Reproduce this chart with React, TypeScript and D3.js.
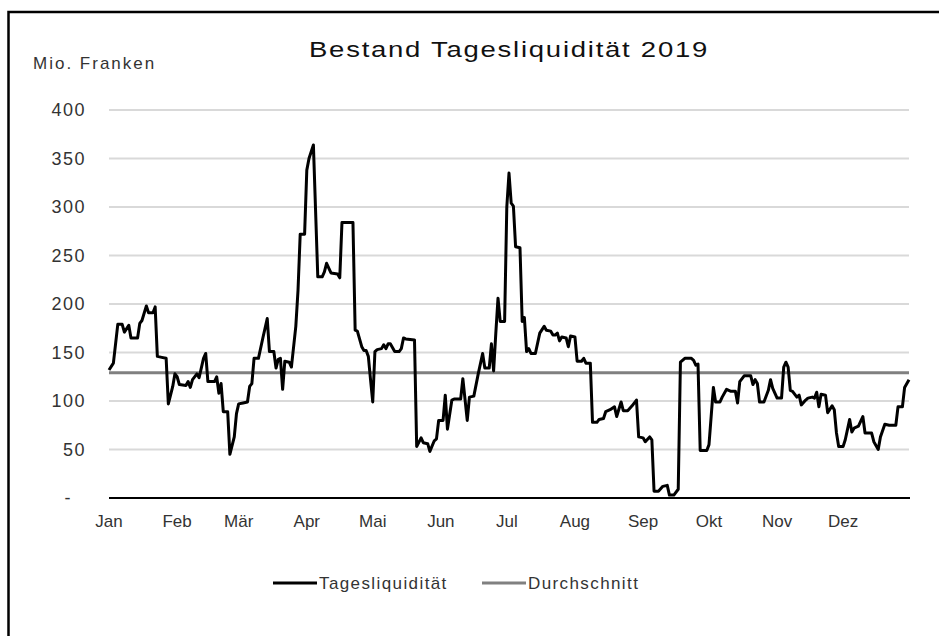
import { useEffect, useRef } from "react"
import * as d3 from "d3"

// day of year (0 = 1. Januar) and stock in Mio. Franken
const liquidity: [number, number][] = [
  [0, 132], [2, 139], [4, 179], [6, 179], [7, 171], [9, 178], [10, 165], [13, 165],
  [14, 180], [15, 183], [17, 198], [18, 191], [20, 191], [21, 197], [22, 146], [24, 145],
  [26, 144], [27, 97], [29, 115], [30, 128], [31, 125], [32, 117], [35, 116], [36, 120],
  [37, 114], [38, 122], [40, 128], [41, 124], [43, 144], [44, 149], [45, 120], [48, 120],
  [49, 125], [50, 108], [51, 118], [52, 89], [54, 89], [55, 45], [57, 63], [58, 87],
  [59, 97], [61, 98], [63, 99], [64, 115], [65, 118], [66, 144], [68, 144], [70, 165],
  [72, 185], [73, 151], [75, 151], [76, 134], [77, 143], [78, 144], [79, 112], [80, 141],
  [82, 140], [83, 135], [85, 177], [86, 214], [87, 272], [89, 272], [90, 338], [91, 350],
  [93, 364], [95, 228], [97, 228], [98, 233], [99, 242], [101, 232], [104, 231], [105, 227],
  [106, 284], [111, 284], [112, 173], [113, 172], [115, 156], [116, 152], [117, 152], [118, 146],
  [119, 122], [120, 99], [121, 151], [122, 153], [124, 154], [125, 158], [126, 154], [127, 159],
  [128, 159], [130, 151], [132, 151], [133, 154], [134, 165], [135, 164], [139, 163], [140, 53],
  [142, 62], [143, 57], [145, 56], [146, 48], [148, 59], [149, 61], [150, 80], [152, 80],
  [153, 106], [154, 71], [156, 101], [157, 102], [160, 102], [161, 123], [163, 80], [164, 104],
  [166, 105], [168, 128], [170, 149], [171, 134], [173, 134], [174, 159], [175, 131], [176, 170],
  [177, 206], [178, 182], [180, 182], [181, 300], [182, 335], [183, 304], [184, 301], [185, 259],
  [187, 258], [188, 182], [189, 186], [190, 151], [191, 154], [192, 149], [194, 149], [196, 170],
  [198, 177], [199, 173], [201, 172], [202, 168], [203, 168], [204, 170], [205, 162], [206, 166],
  [208, 165], [209, 156], [210, 167], [212, 166], [213, 141], [215, 141], [216, 144], [217, 139],
  [219, 139], [220, 78], [222, 78], [223, 81], [225, 82], [226, 89], [228, 91], [230, 94],
  [231, 84], [233, 99], [234, 90], [236, 90], [238, 95], [240, 101], [241, 63], [243, 62],
  [244, 58], [246, 63], [247, 60], [248, 7], [250, 7], [252, 12], [254, 13], [255, 3],
  [257, 3], [259, 9], [260, 140], [262, 144], [265, 144], [266, 142], [267, 137], [268, 138],
  [269, 49], [272, 49], [273, 55], [275, 114], [276, 99], [278, 99], [279, 104], [281, 112],
  [283, 110], [285, 110], [286, 98], [287, 120], [289, 126], [292, 126], [293, 117], [294, 122],
  [295, 118], [296, 99], [298, 99], [300, 111], [301, 122], [302, 113], [304, 103], [306, 103],
  [307, 135], [308, 140], [309, 135], [310, 111], [311, 110], [313, 104], [314, 106], [315, 96],
  [317, 101], [318, 103], [320, 104], [321, 103], [322, 109], [323, 94], [324, 107], [326, 106],
  [327, 88], [329, 95], [330, 91], [331, 67], [332, 53], [334, 53], [335, 60], [337, 81],
  [338, 68], [339, 72], [341, 74], [343, 84], [344, 67], [347, 67], [348, 58], [350, 50],
  [351, 63], [353, 76], [355, 75], [358, 75], [359, 94], [361, 94], [362, 114], [364, 122],
]

const average = 129
const months = ["Jan", "Feb", "Mär", "Apr", "Mai", "Jun", "Jul", "Aug", "Sep", "Okt", "Nov", "Dez"]
const yTicks = [0, 50, 100, 150, 200, 250, 300, 350, 400]
const legendItems = [
  { label: "Tagesliquidität", color: "#000000" },
  { label: "Durchschnitt", color: "#808080" },
]

const W = 939
const H = 636
const FONT = "'Liberation Sans', Arial, sans-serif"

export default function App() {
  const svgRef = useRef<SVGSVGElement>(null)

  useEffect(() => {
    if (!svgRef.current) return
    const svg = d3.select(svgRef.current)
    svg.selectAll("*").remove()

    const plot = { left: 109, right: 909, top: 110, bottom: 498 }

    const x = d3
      .scaleTime()
      .domain([new Date(2019, 0, 1), new Date(2019, 11, 31)])
      .range([plot.left, plot.right])
    const y = d3.scaleLinear().domain([0, 400]).range([plot.bottom, plot.top])

    // * Outer frame (cut off by the picture on the right and bottom)
    svg
      .append("rect")
      .attr("x", 8.5)
      .attr("y", 12)
      .attr("width", 2000)
      .attr("height", 2000)
      .attr("fill", "none")
      .attr("stroke", "#000")
      .attr("stroke-width", 2.5)

    // * Title (the original type is wide, so stretch it a bit)
    svg
      .append("text")
      .attr("transform", "translate(509,57) scale(1.25,1)")
      .attr("text-anchor", "middle")
      .attr("font-family", FONT)
      .attr("font-size", "22px")
      .attr("letter-spacing", "1.4px")
      .attr("fill", "#111")
      .text("Bestand Tagesliquidität 2019")

    // * Unit label
    svg
      .append("text")
      .attr("x", 33)
      .attr("y", 69)
      .attr("font-family", FONT)
      .attr("font-size", "17px")
      .attr("letter-spacing", "2px")
      .attr("fill", "#333")
      .text("Mio. Franken")

    // * Gridlines
    svg
      .append("g")
      .selectAll("line")
      .data(yTicks.filter((t) => t > 0))
      .join("line")
      .attr("x1", plot.left)
      .attr("x2", plot.right)
      .attr("y1", (d) => y(d))
      .attr("y2", (d) => y(d))
      .attr("stroke", "#d9d9d9")
      .attr("stroke-width", 2)

    // * Y labels ("-" for zero, accounting style)
    svg
      .append("g")
      .selectAll("text")
      .data(yTicks)
      .join("text")
      .attr("x", (d) => (d === 0 ? 72 : 86))
      .attr("y", (d) => y(d) + 6)
      .attr("text-anchor", "end")
      .attr("font-family", FONT)
      .attr("font-size", "18px")
      .attr("letter-spacing", "1.5px")
      .attr("fill", "#333")
      .text((d) => (d === 0 ? "-" : String(d)))

    // * X axis line
    svg
      .append("line")
      .attr("x1", plot.left)
      .attr("x2", plot.right + 1)
      .attr("y1", plot.bottom)
      .attr("y2", plot.bottom)
      .attr("stroke", "#000")
      .attr("stroke-width", 2)

    // * Month labels
    svg
      .append("g")
      .selectAll("text")
      .data(months)
      .join("text")
      .attr("x", (_, i) => x(new Date(2019, i, 1)))
      .attr("y", 527)
      .attr("text-anchor", "middle")
      .attr("font-family", FONT)
      .attr("font-size", "17px")
      .attr("fill", "#333")
      .text((d) => d)

    // * Average line
    svg
      .append("line")
      .attr("x1", plot.left)
      .attr("x2", plot.right)
      .attr("y1", y(average))
      .attr("y2", y(average))
      .attr("stroke", "#808080")
      .attr("stroke-width", 3)

    // * Daily liquidity
    const line = d3
      .line<[number, number]>()
      .x((d) => x(new Date(2019, 0, 1 + d[0])))
      .y((d) => y(d[1]))

    svg
      .append("path")
      .datum(liquidity)
      .attr("d", line)
      .attr("fill", "none")
      .attr("stroke", "#000")
      .attr("stroke-width", 3)
      .attr("stroke-linejoin", "round")

    // * Legend
    const legendX = [273, 482]
    legendItems.forEach((item, i) => {
      const g = svg.append("g").attr("transform", `translate(${legendX[i]},583)`)
      g.append("line")
        .attr("x1", 0)
        .attr("x2", 44)
        .attr("stroke", item.color)
        .attr("stroke-width", 3)
      g.append("text")
        .attr("x", 46)
        .attr("y", 5.5)
        .attr("font-family", FONT)
        .attr("font-size", "17px")
        .attr("letter-spacing", "1.4px")
        .attr("fill", "#333")
        .text(item.label)
    })
  }, [])

  return (
    <svg
      ref={svgRef}
      width={W}
      height={H}
      style={{ position: "absolute", left: 0, top: 0, background: "#fff" }}
    />
  )
}
